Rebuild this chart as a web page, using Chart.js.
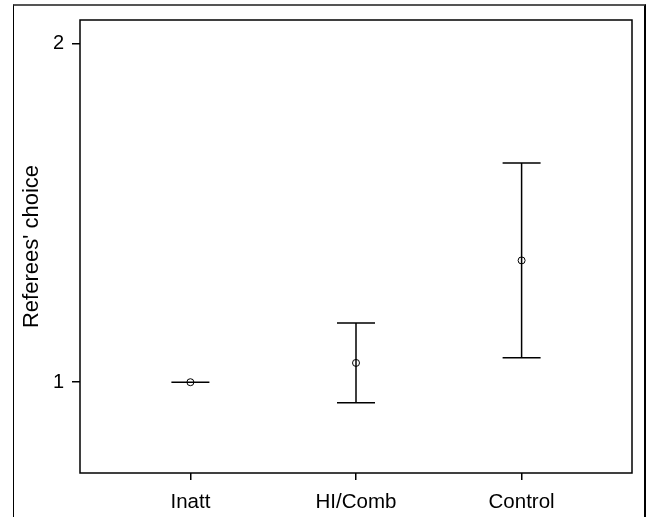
<!DOCTYPE html>
<html>
<head>
<meta charset="utf-8">
<script src="https://cdn.jsdelivr.net/npm/chart.js@4"></script>
<style>
  html, body { margin: 0; padding: 0; background: #fff; overflow: hidden; }
  #frame {
    position: absolute; left: 13px; top: 4px; width: 630px; height: 530px;
    border-top: 2px solid #555; border-left: 1.5px solid #000; border-right: 2px solid #000;
  }
  #wrap { position: absolute; left: 0; top: 0; width: 648px; height: 517px; }
</style>
</head>
<body>
<div id="frame"></div>
<div id="wrap"><canvas id="myChart" width="648" height="517"></canvas></div>
<script>
// groups on the x axis
var categories = ['Inatt', 'HI/Comb', 'Control'];
// point estimate and interval ends
var means = [1, 1.057, 1.360];
var lower = [1, 0.939, 1.072];
var upper = [1, 1.175, 1.648];
var yTicks = [1, 2];

var points = means.map((m, i) => ({ x: i + 1, y: m }));

// error bars + box around the plot
const errorBars = {
    id: 'errorBars',
    afterDatasetsDraw(chart) {
        const c = chart.ctx;
        const xs = chart.scales.x, ys = chart.scales.y;
        const cap = 19;
        c.save();
        c.strokeStyle = '#000';
        c.lineWidth = 1.5;
        means.forEach((m, i) => {
            const px = xs.getPixelForValue(i + 1);
            const lo = ys.getPixelForValue(lower[i]);
            const hi = ys.getPixelForValue(upper[i]);
            c.beginPath();
            c.moveTo(px, lo); c.lineTo(px, hi);
            c.moveTo(px - cap, lo); c.lineTo(px + cap, lo);
            c.moveTo(px - cap, hi); c.lineTo(px + cap, hi);
            c.stroke();
        });
        const a = chart.chartArea;
        c.strokeRect(a.left, a.top, a.right - a.left, a.bottom - a.top);
        c.restore();
    }
};

const ctx = document.getElementById('myChart');
const chart = new Chart(ctx, {
    type: 'scatter',
    data: {
        datasets: [{
            data: points,
            pointStyle: 'circle',
            pointRadius: 3.5,
            pointBorderWidth: 1,
            pointBorderColor: '#000',
            pointBackgroundColor: 'rgba(0,0,0,0)'
        }]
    },
    options: {
        responsive: false,
        animation: false,
        layout: { padding: { top: 19, right: 16, left: 0, bottom: 0 } },
        plugins: { legend: { display: false }, tooltip: { enabled: false } },
        scales: {
            x: {
                type: 'linear',
                min: 1 / 3,
                max: 11 / 3,
                afterBuildTicks: (axis) => { axis.ticks = categories.map((c, i) => ({ value: i + 1 })); },
                afterFit: (axis) => { axis.height = 44; },
                grid: { drawOnChartArea: false, tickLength: 7, color: '#000', lineWidth: 1.5 },
                border: { display: false },
                ticks: {
                    color: '#000',
                    padding: 10,
                    maxRotation: 0,
                    font: { family: 'Liberation Sans, Arial', size: 20.5 },
                    callback: (v) => categories[v - 1]
                }
            },
            y: {
                type: 'linear',
                min: 0.7316,
                max: 2.0708,
                afterBuildTicks: (axis) => { axis.ticks = yTicks.map(v => ({ value: v })); },
                afterFit: (axis) => { axis.width = 80; },
                grid: { drawOnChartArea: false, tickLength: 8, color: '#000', lineWidth: 1.5 },
                border: { display: false },
                ticks: {
                    color: '#000',
                    padding: 8,
                    font: { family: 'Liberation Sans, Arial', size: 20 }
                },
                title: {
                    display: true,
                    text: "Referees' choice",
                    color: '#000',
                    padding: { top: 19, bottom: 0 },
                    font: { family: 'Liberation Sans, Arial', size: 22 }
                }
            }
        }
    },
    plugins: [errorBars]
});
</script>
</body>
</html>
